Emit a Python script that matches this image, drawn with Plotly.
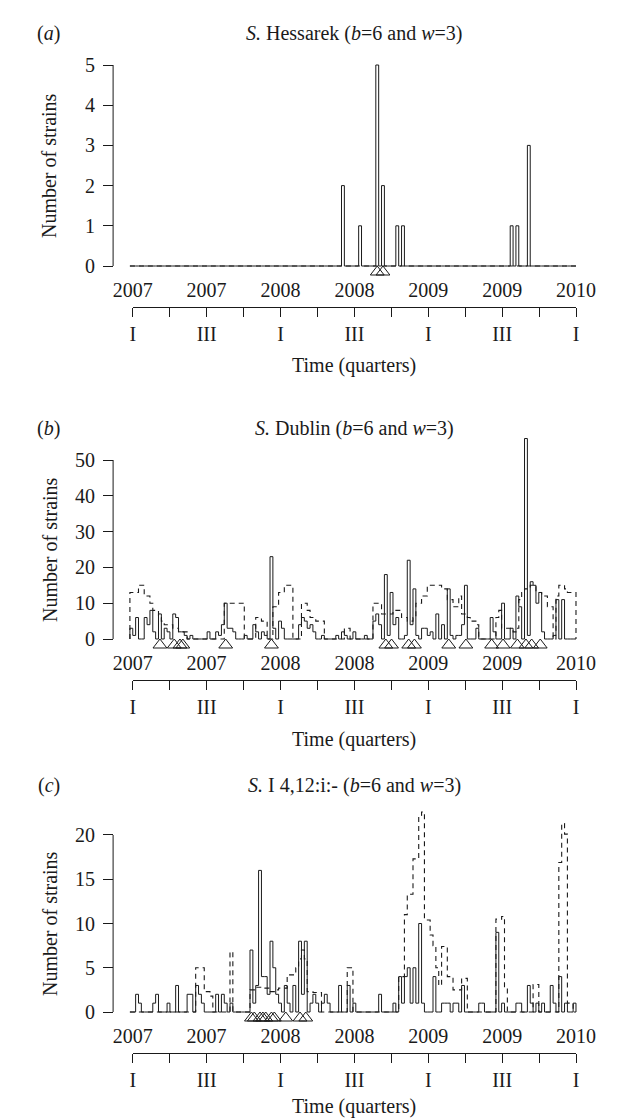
import plotly.graph_objects as go

# weekly strain counts, Jan 2007 - Dec 2009 (156 weeks), one row per quarter
hessarek_counts = [
    0, 0, 0, 0, 0, 0, 0, 0, 0, 0, 0, 0, 0,
    0, 0, 0, 0, 0, 0, 0, 0, 0, 0, 0, 0, 0,
    0, 0, 0, 0, 0, 0, 0, 0, 0, 0, 0, 0, 0,
    0, 0, 0, 0, 0, 0, 0, 0, 0, 0, 0, 0, 0,
    0, 0, 0, 0, 0, 0, 0, 0, 0, 0, 0, 0, 0,
    0, 0, 0, 0, 0, 0, 0, 0, 0, 2, 0, 0, 0,
    0, 0, 1, 0, 0, 0, 0, 0, 5, 0, 2, 0, 0,
    0, 0, 1, 0, 1, 0, 0, 0, 0, 0, 0, 0, 0,
    0, 0, 0, 0, 0, 0, 0, 0, 0, 0, 0, 0, 0,
    0, 0, 0, 0, 0, 0, 0, 0, 0, 0, 0, 0, 0,
    0, 0, 0, 1, 0, 1, 0, 0, 0, 3, 0, 0, 0,
    0, 0, 0, 0, 0, 0, 0, 0, 0, 0, 0, 0, 0,
]
hessarek_threshold = [0] * 156
hessarek_alarms = [86, 88]

dublin_counts = [
    3, 1, 6, 0, 0, 6, 4, 8, 2, 0, 7, 0, 3,
    2, 0, 7, 6, 2, 2, 1, 0, 1, 0, 0, 0, 0,
    0, 2, 0, 0, 2, 1, 4, 10, 3, 3, 2, 0, 0,
    0, 1, 0, 0, 4, 2, 0, 2, 1, 0, 23, 3, 0,
    5, 3, 0, 0, 0, 0, 0, 4, 6, 5, 3, 4, 2,
    0, 0, 1, 0, 0, 0, 0, 1, 0, 2, 1, 0, 0,
    2, 0, 0, 0, 1, 0, 0, 5, 7, 4, 0, 18, 1,
    13, 4, 6, 0, 0, 1, 22, 4, 14, 1, 0, 3, 3,
    1, 2, 0, 7, 0, 4, 0, 14, 1, 0, 1, 1, 4,
    15, 0, 0, 0, 3, 0, 0, 0, 0, 6, 2, 0, 0,
    10, 0, 0, 3, 0, 12, 9, 0, 56, 1, 16, 15, 10,
    13, 2, 0, 0, 0, 1, 11, 0, 11, 0, 0, 0, 0,
]
dublin_threshold = [
    13, 13, 13, 15, 15, 12, 12, 10, 8, 8, 6, 5, 4,
    4, 4, 3, 3, 2, 2, 2, 0, 0, 0, 0, 0, 0,
    0, 0, 0, 0, 0, 0, 0, 10, 10, 10, 10, 10, 10,
    10, 0, 0, 0, 0, 6, 6, 5, 5, 0, 0, 9, 9,
    13, 13, 15, 15, 15, 0, 0, 0, 10, 10, 8, 6, 6,
    5, 5, 5, 0, 0, 0, 0, 0, 0, 0, 3, 3, 0,
    0, 0, 0, 0, 0, 0, 0, 10, 10, 10, 7, 7, 7,
    7, 8, 8, 8, 6, 6, 5, 5, 6, 10, 10, 12, 12,
    15, 15, 15, 15, 15, 14, 14, 11, 11, 9, 9, 12, 7,
    7, 6, 5, 5, 4, 0, 0, 0, 0, 0, 0, 6, 8,
    3, 3, 3, 3, 2, 3, 11, 13, 14, 14, 15, 15, 13,
    13, 12, 12, 9, 9, 0, 12, 15, 15, 14, 13, 13, 13,
]
dublin_alarms = [10, 15, 17, 18, 33, 49, 89, 91, 97, 99, 111, 117, 126, 130, 135, 138, 140, 143]

i412_counts = [
    0, 0, 2, 1, 0, 0, 0, 0, 1, 2, 0, 0, 0,
    1, 0, 0, 3, 0, 0, 0, 2, 2, 0, 3, 2, 1,
    0, 0, 0, 0, 2, 0, 2, 1, 0, 1, 0, 0, 0,
    0, 0, 0, 7, 1, 3, 16, 4, 4, 2, 8, 5, 2,
    1, 0, 3, 1, 0, 3, 0, 8, 2, 8, 0, 1, 2,
    1, 0, 1, 2, 1, 0, 0, 0, 3, 0, 0, 3, 0,
    1, 0, 0, 0, 0, 0, 0, 0, 0, 2, 0, 0, 0,
    0, 1, 0, 4, 1, 4, 5, 1, 5, 1, 10, 1, 0,
    0, 0, 4, 0, 0, 1, 1, 1, 0, 1, 1, 0, 3,
    0, 0, 0, 0, 0, 1, 1, 0, 0, 0, 0, 9, 0,
    1, 0, 0, 0, 0, 1, 1, 0, 0, 3, 1, 0, 1,
    0, 1, 0, 0, 3, 1, 0, 4, 0, 1, 0, 0, 1,
]
i412_threshold = [
    0, 0, 0, 0, 0, 0, 0, 0, 0, 0, 0, 0, 0,
    0, 0, 0, 0, 0, 0, 0, 0, 0, 0, 5, 5, 5,
    2.3, 2.3, 1.8, 0, 0, 0, 0, 0, 0, 6.8, 0, 0, 0,
    0, 0, 0, 2.5, 2.5, 2.8, 2.8, 2.7, 2.7, 2.7, 2.3, 2.3, 2.5,
    2.7, 2.7, 2.7, 4.2, 4.2, 4.2, 5, 6, 7, 6, 2.3, 2.3, 2.2,
    2.2, 2.2, 0, 0, 0, 0, 0, 0, 0, 0, 0, 5, 5,
    0, 0, 0, 0, 0, 0, 0, 0, 0, 0, 0, 0, 0,
    0, 0, 0, 4, 4, 11, 13.3, 13.3, 17.3, 17.3, 22.2, 22.6, 10.4,
    10.4, 8.7, 7.5, 5, 3, 7.4, 7.4, 4, 4, 2.5, 2.5, 2.5, 3.8,
    3.8, 0, 0, 0, 0, 0, 0, 0, 0, 0, 0, 10.5, 10.5,
    10.8, 2.7, 0, 0, 0, 0, 0, 0, 0, 0, 0, 3.1, 3.1,
    0, 0, 0, 0, 0, 0, 0, 16.9, 21.3, 20.1, 1, 1, 0,
]
i412_alarms = [42, 43, 45, 46, 47, 49, 50, 54, 59, 61]

titles = [
    "<i>S.</i> Hessarek (<i>b</i>=6 and <i>w</i>=3)",
    "<i>S.</i> Dublin (<i>b</i>=6 and <i>w</i>=3)",
    "<i>S.</i> I 4,12:i:- (<i>b</i>=6 and <i>w</i>=3)",
]
panel_tags = ["(<i>a</i>)", "(<i>b</i>)", "(<i>c</i>)"]
year_ticks = ["2007", "2007", "2008", "2008", "2009", "2009", "2010"]
quarter_ticks = ["I", "", "III", "", "I", "", "III", "", "I", "", "III", "", "I"]
y_ticks = [list(range(0, 6)), list(range(0, 51, 10)), list(range(0, 21, 5))]

# page geometry (pixels)
W, H = 617, 1119
X0, X1 = 112, 586
PPW = (X1 - X0) / 156
AXIS_X = 91
zero_px = [258, 631, 1004]
px_per_unit = [40.2, 3.58, 8.85]
y_ranges = [[-0.7, 5.3], [-7, 58], [-3, 23.5]]
title_px = [25, 420, 778]
time_px = [358, 731, 1098]

FONT = "Liberation Serif"
INK = "#1a1a1a"


def py(px):
    return 1 - px / H


fig = go.Figure()
series = [
    (hessarek_counts, hessarek_threshold, hessarek_alarms),
    (dublin_counts, dublin_threshold, dublin_alarms),
    (i412_counts, i412_threshold, i412_alarms),
]

layout = dict(
    width=W, height=H,
    margin=dict(l=0, r=0, t=0, b=0),
    paper_bgcolor="white",
    plot_bgcolor="rgba(0,0,0,0)",
    showlegend=False,
    font=dict(family=FONT, size=20, color=INK),
)
shapes = []
annotations = []

for i, (counts, thr, alarms) in enumerate(series):
    n = i + 1
    xa, ya = f"x{n}", f"y{n}"
    step_x = [-1] + list(range(-1, len(counts))) + [len(counts) - 1]
    step_y = [0] + counts + [0, 0]
    thr_y = [0] + thr + [0, 0]
    fig.add_trace(go.Scatter(
        x=step_x, y=thr_y, mode="lines", line_shape="hv",
        line=dict(color=INK, width=1.1, dash="5px,4px"),
        xaxis=xa, yaxis=ya, hoverinfo="skip",
    ))
    fig.add_trace(go.Scatter(
        x=step_x, y=step_y, mode="lines", line_shape="hv",
        line=dict(color=INK, width=1),
        xaxis=xa, yaxis=ya, hoverinfo="skip",
    ))
    fig.add_trace(go.Scatter(
        x=[k - 0.5 for k in alarms],
        y=[-6 / px_per_unit[i]] * len(alarms),
        mode="markers", cliponaxis=False,
        marker=dict(symbol="triangle-up-open", size=12, color=INK, line=dict(width=1)),
        xaxis=xa, yaxis=ya, hoverinfo="skip",
    ))

    lo, hi = y_ranges[i]
    z = zero_px[i]
    u = px_per_unit[i]
    layout[f"xaxis{n}"] = dict(
        range=[-1.5, 156.5],
        domain=[(X0 - 1.5 * PPW) / W, (X1 + 1.5 * PPW) / W],
        visible=False, anchor=ya,
    )
    layout[f"yaxis{n}"] = dict(
        range=[lo, hi],
        domain=[py(z - lo * u), py(z - hi * u)],
        anchor="free", position=AXIS_X / W,
        showgrid=False, zeroline=False, showline=False,
        ticks="outside", ticklen=10, tickwidth=1, tickcolor=INK,
        tickvals=y_ticks[i], ticklabelstandoff=4,
        tickfont=dict(family=FONT, size=20, color=INK),
    )
    shapes.append(dict(
        type="line", xref="paper", yref=ya,
        x0=AXIS_X / W, x1=AXIS_X / W, y0=0, y1=y_ticks[i][-1],
        line=dict(color=INK, width=1),
    ))

    # year labels (no ticks) and quarter axis below each panel
    yr, qr = n + 3, n + 6
    layout[f"xaxis{yr}"] = dict(
        range=[0, 156], domain=[X0 / W, X1 / W],
        anchor="free", position=py(z + 10),
        showgrid=False, zeroline=False, showline=False, ticks="",
        tickvals=[0, 26, 52, 78, 104, 130, 156], ticktext=year_ticks,
        tickfont=dict(family=FONT, size=20, color=INK),
    )
    layout[f"xaxis{qr}"] = dict(
        range=[0, 156], domain=[X0 / W, X1 / W],
        anchor="free", position=py(z + 41),
        showgrid=False, zeroline=False,
        showline=True, linecolor=INK, linewidth=1,
        ticks="outside", ticklen=9, tickwidth=1, tickcolor=INK,
        tickvals=list(range(0, 157, 13)), ticktext=quarter_ticks,
        tickfont=dict(family=FONT, size=20, color=INK),
    )
    fig.add_trace(go.Scatter(x=[], y=[], xaxis=f"x{yr}", yaxis=ya))
    fig.add_trace(go.Scatter(x=[], y=[], xaxis=f"x{qr}", yaxis=ya))

    annotations += [
        dict(text=panel_tags[i], x=22 / W, y=py(title_px[i]), xref="paper", yref="paper",
             showarrow=False, xanchor="center", yanchor="middle", font=dict(size=20)),
        dict(text=titles[i], x=(X0 + X1) / 2 / W, y=py(title_px[i]), xref="paper", yref="paper",
             showarrow=False, xanchor="center", yanchor="middle", font=dict(size=20)),
        dict(text="Number of strains", x=23 / W, y=py(z - y_ticks[i][-1] * u / 2),
             xref="paper", yref="paper", textangle=-90,
             showarrow=False, xanchor="center", yanchor="middle", font=dict(size=20)),
        dict(text="Time (quarters)", x=(X0 + X1) / 2 / W, y=py(time_px[i]), xref="paper", yref="paper",
             showarrow=False, xanchor="center", yanchor="middle", font=dict(size=20)),
    ]

layout["shapes"] = shapes
layout["annotations"] = annotations
fig.update_layout(**layout)
fig.write_html("out.html")
